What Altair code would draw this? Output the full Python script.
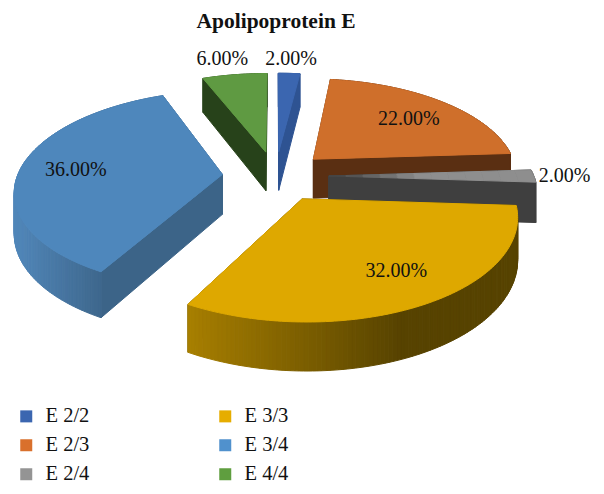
import math
import altair as alt

TITLE = "Apolipoprotein E"
CATEGORIES = ["E 2/2", "E 2/3", "E 2/4", "E 3/3", "E 3/4", "E 4/4"]
VALUES = [2, 22, 2, 32, 36, 6]
LABELS = ["2.00%", "22.00%", "2.00%", "32.00%", "36.00%", "6.00%"]
TOP_COLORS = ["#3b66b0", "#cf6f2b", "#8e8e8e", "#dea800", "#4e87bc", "#5f9a42"]
LEGEND_COLORS = ["#3b66b0", "#d9702c", "#949494", "#e6ad00", "#5091cd", "#5f9e3f"]
FACE_COLORS = ["#2e5392", "#5a2f12", "#3f3f3f", "#6b5200", "#3c6488", "#27421a"]
RIM_LEFT = ["#2e5392", "#5a2f12", "#3f3f3f", "#a98000", "#5187ba", "#27421a"]
RIM_RIGHT = ["#2e5392", "#5a2f12", "#3f3f3f", "#574300", "#3c6488", "#27421a"]
LABEL_RADIUS = [1.22, 0.69, 1.15, 0.71, 0.73, 1.243]
LABEL_DX = [0, 4, 0, 11, 1, -6]

PAGE = 8
CX, CY, A, B, K, DEPTH, EXPLODE = 275.5, 176.0, 205.0, 97.0, 0.15, 40.0, 0.26


def project(x, y, down=False):
    w = 1 + K * y
    sx = CX + A * x / w - PAGE
    sy = CY - B * y / w - PAGE + (DEPTH / w if down else 0)
    return [sx, sy]


def mix(c1, c2, t):
    a = [int(c1[i:i + 2], 16) for i in (1, 3, 5)]
    b = [int(c2[i:i + 2], 16) for i in (1, 3, 5)]
    return "#%02x%02x%02x" % tuple(round(p + (q - p) * t) for p, q in zip(a, b))


def feature(ring, fill):
    return {
        "type": "Feature",
        "properties": {"fill": fill},
        "geometry": {"type": "Polygon", "coordinates": [ring + [ring[0]]]},
    }


def slice_features(i, start, end):
    mid = (start + end) / 2
    ox, oy = EXPLODE * math.sin(mid), EXPLODE * math.cos(mid)
    n = max(3, int(math.degrees(end - start)))
    angles = [start + (end - start) * j / n for j in range(n + 1)]
    rim = [(ox + math.sin(a), oy + math.cos(a)) for a in angles]
    sides = []
    for p, q in ((rim[0], (ox, oy)), (rim[-1], (ox, oy))):
        ring = [project(*p), project(*q), project(*q, True), project(*p, True)]
        sides.append(((p[1] + q[1]) / 2, feature(ring, FACE_COLORS[i])))
    for j in range(n):
        p, q = rim[j], rim[j + 1]
        ring = [project(*p), project(*q), project(*q, True), project(*p, True)]
        xm = project((p[0] + q[0]) / 2, (p[1] + q[1]) / 2)[0] + PAGE
        t = (xm - 15) / 95 if i == 4 else (xm - 185) / 215
        t = min(1, max(0, t))
        sides.append(((p[1] + q[1]) / 2, feature(ring, mix(RIM_LEFT[i], RIM_RIGHT[i], t))))
    sides.sort(key=lambda s: -s[0])
    out = [s[1] for s in sides]
    if i == 2:
        # the thin grey slice fades along its length
        steps = 12
        for k in range(steps):
            f0, f1 = k / steps, (k + 1) / steps
            ring = [
                project(ox + f0 * (p[0] - ox), oy + f0 * (p[1] - oy))
                for p in rim
            ] + [
                project(ox + f1 * (p[0] - ox), oy + f1 * (p[1] - oy))
                for p in reversed(rim)
            ]
            out.append(feature(ring, mix("#3f3f3f", TOP_COLORS[i], min(1, (f0 + 0.05) * 2.2))))
    else:
        top = [project(ox, oy)] + [project(*p) for p in rim]
        out.append(feature(top, TOP_COLORS[i]))
    return out


total = sum(VALUES)
spans = []
acc = 0
for v in VALUES:
    spans.append((2 * math.pi * acc / total, 2 * math.pi * (acc + v) / total))
    acc += v

order = sorted(range(len(VALUES)), key=lambda i: -math.cos(sum(spans[i]) / 2))
features = []
for i in order:
    features += slice_features(i, *spans[i])

label_rows = []
for i, (s, e) in enumerate(spans):
    mid = (s + e) / 2
    r = LABEL_RADIUS[i]
    px, py = project((EXPLODE + r) * math.sin(mid), (EXPLODE + r) * math.cos(mid))
    label_rows.append({"label": LABELS[i], "px": px + LABEL_DX[i], "py": py})

pie = alt.Chart(alt.Data(values=features)).mark_geoshape(strokeWidth=1).encode(
    fill=alt.Fill("properties.fill:N", scale=None),
    stroke=alt.Stroke("properties.fill:N", scale=None),
).project(type="identity", scale=1, translate=[0, 0])

text = alt.Chart(alt.Data(values=label_rows)).mark_text(
    font="Liberation Serif", fontSize=20, color="#111111", align="center", baseline="middle"
).encode(
    x=alt.X("px:Q", scale=None, axis=None),
    y=alt.Y("py:Q", scale=None, axis=None),
    text="label:N",
)

title = alt.Chart(alt.Data(values=[{"t": TITLE}])).mark_text(
    font="Liberation Serif", fontSize=21.5, fontWeight="bold", color="#111111",
    align="center", baseline="middle",
).encode(x=alt.value(268), y=alt.value(14), text="t:N")

legend_rows = [{"cat": c} for c in CATEGORIES]
legend = alt.Chart(alt.Data(values=legend_rows)).mark_point(
    filled=True, shape="square", opacity=0
).encode(
    x=alt.value(-50),
    y=alt.value(-50),
    color=alt.Color(
        "cat:N",
        scale=alt.Scale(domain=CATEGORIES, range=LEGEND_COLORS),
        legend=alt.Legend(
            title=None,
            orient="none",
            legendX=8,
            legendY=398,
            columns=2,
            direction="vertical",
            columnPadding=125,
            rowPadding=8,
            symbolSize=144,
            symbolType="square",
            symbolOpacity=1,
            symbolStrokeWidth=0,
            labelFont="Liberation Serif",
            labelFontSize=20.5,
            labelColor="#111111",
            labelOffset=9,
            labelLimit=100,
        ),
    ),
)

chart = alt.layer(pie, text, title, legend).properties(
    width=588,
    height=478,
    padding=0,
    autosize=alt.AutoSizeParams(type="none"),
    background="white",
).configure_view(stroke=None)

chart.save("out.html", embed_options={"renderer": "svg", "actions": False})
